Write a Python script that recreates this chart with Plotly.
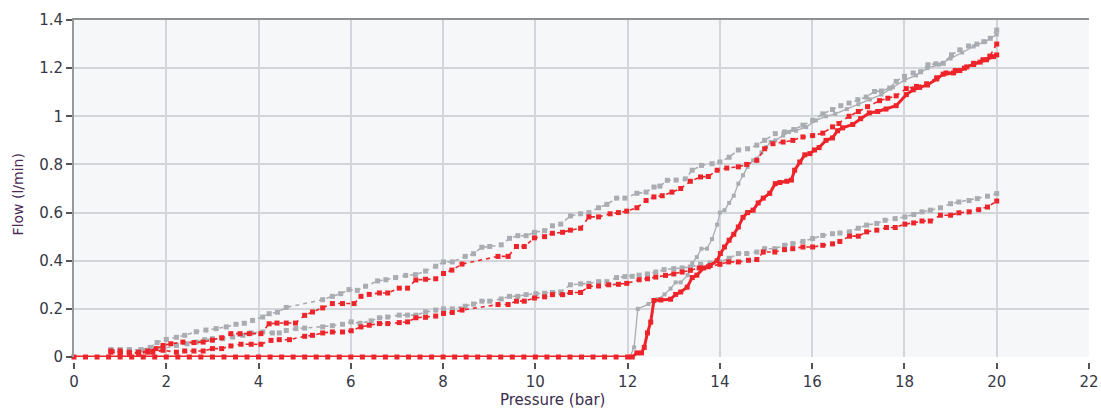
import plotly.graph_objects as go

# ---- measured flow curves (pressure in bar, flow in l/min) ----
grey_upper_p = [0.8, 1.0, 1.2, 1.45, 1.65, 1.8, 2.0, 2.22, 2.4, 2.65, 2.86, 3.08, 3.3, 3.51, 3.69, 3.87,
                4.09, 4.23, 4.41, 4.6, 5.39, 5.6, 5.78, 5.96, 6.14, 6.32, 6.58, 6.76, 6.97, 7.19, 7.4, 7.62,
                7.84, 8.01, 8.2, 8.48, 8.66, 8.84, 9.01, 9.26, 9.44, 9.62, 9.8, 9.98, 10.2, 10.37, 10.55,
                10.76, 10.98, 11.16, 11.37, 11.55, 11.76, 11.94, 12.2, 12.4, 12.57, 12.7, 12.86, 13.05,
                13.25, 13.4, 13.6, 13.83, 14.0, 14.2, 14.4, 14.6, 14.8, 14.97, 15.2, 15.4, 15.6, 15.8,
                16.01, 16.23, 16.44, 16.62, 16.8, 16.99, 17.17, 17.35, 17.5, 17.68, 17.82, 18.0, 18.19,
                18.35, 18.51, 18.68, 18.84, 19.02, 19.2, 19.39, 19.57, 19.72, 19.86, 20.0]
grey_upper_q = [0.03, 0.03, 0.03, 0.03, 0.04, 0.06, 0.073, 0.082, 0.09, 0.105, 0.112, 0.118, 0.125, 0.136,
                0.14, 0.152, 0.166, 0.18, 0.186, 0.206, 0.238, 0.252, 0.263, 0.28, 0.277, 0.294, 0.316,
                0.321, 0.33, 0.339, 0.342, 0.357, 0.377, 0.395, 0.395, 0.418, 0.429, 0.456, 0.459, 0.466,
                0.493, 0.504, 0.504, 0.518, 0.525, 0.545, 0.552, 0.586, 0.595, 0.6, 0.62, 0.634, 0.66,
                0.66, 0.68, 0.685, 0.706, 0.71, 0.734, 0.735, 0.74, 0.776, 0.796, 0.803, 0.81, 0.83, 0.86,
                0.865, 0.88, 0.9, 0.928, 0.935, 0.945, 0.963, 0.983, 1.01, 1.028, 1.044, 1.055, 1.069,
                1.08, 1.103, 1.105, 1.117, 1.145, 1.166, 1.18, 1.185, 1.214, 1.218, 1.22, 1.255, 1.276,
                1.292, 1.3, 1.31, 1.324, 1.358]

grey_lower_p = [0.8, 1.0, 1.2, 1.45, 1.7, 1.93, 2.22, 2.45, 2.65, 2.83, 3.0, 3.22, 3.44, 3.66, 3.84, 4.09,
                4.3, 4.45, 4.6, 4.81, 5.0, 5.39, 5.6, 5.82, 6.01, 6.2, 6.44, 6.62, 6.8, 7.05, 7.23, 7.41,
                7.62, 7.84, 8.01, 8.2, 8.48, 8.66, 8.84, 9.01, 9.26, 9.44, 9.62, 9.8, 10.01, 10.2, 10.37,
                10.55, 10.76, 10.98, 11.16, 11.37, 11.55, 11.76, 11.94, 12.1, 12.25, 12.43, 12.61, 12.79,
                13.0, 13.18, 13.36, 13.58, 13.79, 14.0, 14.2, 14.4, 14.58, 14.8, 14.97, 15.19, 15.4,
                15.58, 15.8, 16.01, 16.23, 16.44, 16.6, 16.81, 17.0, 17.18, 17.4, 17.58, 17.8, 18.01,
                18.2, 18.38, 18.56, 18.78, 19.0, 19.18, 19.4, 19.58, 19.8, 20.0]
grey_lower_q = [0.03, 0.03, 0.03, 0.03, 0.03, 0.035, 0.048, 0.055, 0.062, 0.072, 0.076, 0.076, 0.083, 0.09,
                0.1, 0.104, 0.1, 0.1, 0.11, 0.118, 0.12, 0.125, 0.13, 0.136, 0.146, 0.14, 0.15, 0.163,
                0.166, 0.174, 0.174, 0.174, 0.187, 0.195, 0.2, 0.2, 0.211, 0.22, 0.232, 0.232, 0.241,
                0.252, 0.252, 0.259, 0.263, 0.265, 0.268, 0.27, 0.3, 0.304, 0.306, 0.313, 0.313, 0.33,
                0.334, 0.335, 0.34, 0.345, 0.353, 0.363, 0.367, 0.37, 0.374, 0.385, 0.39, 0.395, 0.41,
                0.43, 0.43, 0.436, 0.45, 0.45, 0.464, 0.471, 0.48, 0.492, 0.505, 0.512, 0.515, 0.52,
                0.535, 0.548, 0.555, 0.568, 0.575, 0.582, 0.592, 0.603, 0.61, 0.62, 0.637, 0.644, 0.65,
                0.658, 0.668, 0.679]

grey_solid_p = [0.0, 3.0, 6.0, 9.0, 12.05, 12.14, 12.22, 12.45, 12.65, 12.8, 12.93, 13.04, 13.15, 13.3,
                13.4, 13.5, 13.6, 13.72, 13.83, 13.94, 14.0, 14.1, 14.2, 14.3, 14.4, 14.5, 14.6, 14.72,
                14.8, 14.9, 15.0, 15.1, 15.2, 15.37, 15.5, 15.65, 15.87, 16.08, 16.3, 16.5, 16.75, 17.0,
                17.25, 17.5, 17.75, 18.0, 18.25, 18.5, 18.75, 19.0, 19.25, 19.5, 19.75, 20.0]
grey_solid_q = [0.0, 0.0, 0.0, 0.0, 0.0, 0.04, 0.2, 0.22, 0.24, 0.26, 0.284, 0.31, 0.31, 0.34, 0.39,
                0.415, 0.45, 0.45, 0.49, 0.55, 0.6, 0.61, 0.64, 0.67, 0.72, 0.755, 0.79, 0.817, 0.824,
                0.85, 0.872, 0.893, 0.9, 0.92, 0.935, 0.94, 0.955, 0.983, 1.0, 1.01, 1.03, 1.05, 1.07,
                1.09, 1.12, 1.15, 1.17, 1.2, 1.215, 1.24, 1.265, 1.29, 1.31, 1.34]

red_upper_p = [0.8, 1.0, 1.2, 1.4, 1.6, 1.78, 1.93, 2.1, 2.36, 2.6, 2.8, 3.0, 3.2, 3.4, 3.6, 3.8, 4.05,
               4.23, 4.4, 4.6, 4.8, 5.0, 5.17, 5.39, 5.6, 5.82, 6.07, 6.22, 6.4, 6.62, 6.8, 7.05, 7.23,
               7.41, 7.62, 7.84, 8.01, 8.19, 8.41, 9.19, 9.41, 9.59, 9.76, 9.98, 10.2, 10.37, 10.59,
               10.76, 10.98, 11.16, 11.37, 11.62, 11.8, 11.98, 12.2, 12.4, 12.57, 12.75, 12.96, 13.15,
               13.36, 13.58, 13.75, 13.94, 14.15, 14.4, 14.58, 14.8, 14.97, 15.15, 15.37, 15.58, 15.8,
               16.01, 16.23, 16.44, 16.58, 16.8, 17.0, 17.2, 17.46, 17.64, 17.82, 18.04, 18.26, 18.48,
               18.7, 18.9, 19.1, 19.3, 19.5, 19.7, 19.85, 20.0]
red_upper_q = [0.025, 0.025, 0.02, 0.02, 0.025, 0.035, 0.048, 0.055, 0.062, 0.06, 0.062, 0.07, 0.08,
               0.097, 0.097, 0.097, 0.097, 0.138, 0.141, 0.141, 0.141, 0.173, 0.187, 0.204, 0.222, 0.222,
               0.222, 0.252, 0.26, 0.266, 0.266, 0.286, 0.286, 0.32, 0.323, 0.325, 0.347, 0.361, 0.386,
               0.418, 0.418, 0.459, 0.459, 0.495, 0.5, 0.514, 0.518, 0.527, 0.535, 0.582, 0.582, 0.595,
               0.6, 0.606, 0.62, 0.65, 0.665, 0.67, 0.685, 0.7, 0.73, 0.748, 0.75, 0.776, 0.785, 0.79,
               0.8, 0.817, 0.865, 0.886, 0.893, 0.9, 0.914, 0.92, 0.93, 0.956, 0.97, 1.0, 1.02, 1.04,
               1.065, 1.075, 1.085, 1.115, 1.124, 1.135, 1.16, 1.18, 1.19, 1.2, 1.22, 1.235, 1.25, 1.3]

red_lower_p = [0.8, 1.0, 1.2, 1.4, 1.6, 1.71, 1.93, 2.22, 2.4, 2.6, 2.8, 3.0, 3.2, 3.4, 3.62, 3.84, 4.05,
               4.27, 4.45, 4.67, 5.0, 5.17, 5.39, 5.6, 5.82, 6.01, 6.22, 6.4, 6.62, 6.8, 7.05, 7.23, 7.41,
               7.62, 7.84, 8.01, 8.2, 8.41, 9.19, 9.41, 9.59, 9.76, 9.98, 10.2, 10.37, 10.59, 10.76,
               10.98, 11.16, 11.37, 11.59, 11.8, 11.98, 12.25, 12.43, 12.61, 12.82, 13.0, 13.18, 13.36,
               13.55, 13.75, 14.0, 14.19, 14.4, 14.62, 14.8, 14.94, 15.19, 15.4, 15.58, 15.8, 16.01,
               16.23, 16.44, 16.6, 16.81, 17.0, 17.18, 17.4, 17.61, 17.8, 18.01, 18.2, 18.38, 18.56,
               18.78, 19.0, 19.18, 19.4, 19.61, 19.8, 20.0]
red_lower_q = [0.02, 0.015, 0.015, 0.015, 0.02, 0.02, 0.028, 0.02, 0.025, 0.025, 0.025, 0.035, 0.035,
               0.046, 0.053, 0.053, 0.053, 0.069, 0.072, 0.072, 0.086, 0.09, 0.1, 0.104, 0.104, 0.109,
               0.125, 0.132, 0.139, 0.139, 0.143, 0.146, 0.163, 0.165, 0.17, 0.181, 0.185, 0.195, 0.218,
               0.218, 0.232, 0.232, 0.245, 0.25, 0.259, 0.259, 0.268, 0.268, 0.293, 0.295, 0.3, 0.302,
               0.306, 0.321, 0.325, 0.332, 0.339, 0.345, 0.353, 0.36, 0.37, 0.375, 0.385, 0.395, 0.395,
               0.402, 0.405, 0.436, 0.436, 0.446, 0.45, 0.457, 0.457, 0.464, 0.47, 0.48, 0.502, 0.502,
               0.52, 0.527, 0.538, 0.538, 0.552, 0.557, 0.565, 0.565, 0.589, 0.589, 0.599, 0.603, 0.612,
               0.623, 0.648]

red_solid_p = [0.0, 0.25, 0.5, 0.75, 1.0, 1.25, 1.5, 1.75, 2.0, 2.25, 2.5, 2.75, 3.0, 3.25, 3.5, 3.75,
               4.0, 4.25, 4.5, 4.75, 5.0, 5.25, 5.5, 5.75, 6.0, 6.25, 6.5, 6.75, 7.0, 7.25, 7.5, 7.75,
               8.0, 8.25, 8.5, 8.75, 9.0, 9.25, 9.5, 9.75, 10.0, 10.25, 10.5, 10.75, 11.0, 11.25, 11.5,
               11.75, 12.0, 12.1, 12.2, 12.3, 12.36, 12.43, 12.5, 12.57, 12.72, 12.93, 13.04, 13.15,
               13.29, 13.4, 13.5, 13.65, 13.79, 13.94, 14.01, 14.1, 14.2, 14.3, 14.4, 14.5, 14.6, 14.72,
               14.83, 14.94, 15.08, 15.2, 15.3, 15.45, 15.55, 15.62, 15.73, 15.84, 15.95, 16.05, 16.15,
               16.3, 16.44, 16.55, 16.66, 16.88, 17.05, 17.24, 17.42, 17.6, 17.82, 18.04, 18.19, 18.33,
               18.5, 18.7, 18.84, 19.06, 19.2, 19.35, 19.5, 19.64, 19.78, 19.93, 20.0]
red_solid_q = [0.0, 0.0, 0.0, 0.0, 0.0, 0.0, 0.0, 0.0, 0.0, 0.0, 0.0, 0.0, 0.0, 0.0, 0.0, 0.0,
               0.0, 0.0, 0.0, 0.0, 0.0, 0.0, 0.0, 0.0, 0.0, 0.0, 0.0, 0.0, 0.0, 0.0, 0.0, 0.0,
               0.0, 0.0, 0.0, 0.0, 0.0, 0.0, 0.0, 0.0, 0.0, 0.0, 0.0, 0.0, 0.0, 0.0, 0.0,
               0.0, 0.0, 0.0, 0.017, 0.017, 0.04, 0.1, 0.145, 0.235, 0.237, 0.24, 0.26, 0.27,
               0.29, 0.33, 0.34, 0.37, 0.38, 0.4, 0.43, 0.457, 0.485, 0.51, 0.54, 0.58, 0.6, 0.61,
               0.64, 0.66, 0.68, 0.72, 0.725, 0.73, 0.735, 0.776, 0.81, 0.84, 0.845, 0.86, 0.87,
               0.9, 0.91, 0.94, 0.952, 0.966, 0.99, 1.014, 1.02, 1.03, 1.044, 1.09, 1.11, 1.12,
               1.13, 1.155, 1.175, 1.18, 1.19, 1.205, 1.215, 1.225, 1.235, 1.248, 1.255]

# axis tick values
x_ticks = [0, 2, 4, 6, 8, 10, 12, 14, 16, 18, 20, 22]
y_ticks = [0, 0.2, 0.4, 0.6, 0.8, 1, 1.2, 1.4]

GREY = "#a9acb1"
RED = "#ee242b"
FONT = "DejaVu Sans"
TICK_FONT = dict(family=FONT, size=15, color="#363845")

fig = go.Figure()


def dashed_series(p, q, color):
    return go.Scatter(
        x=p, y=q, mode="lines+markers",
        line=dict(color=color, width=1.6, dash="4px,4px"),
        marker=dict(symbol="square", size=5, color=color),
        showlegend=False, hoverinfo="x+y", cliponaxis=False,
    )


fig.add_trace(dashed_series(grey_upper_p, grey_upper_q, GREY))
fig.add_trace(dashed_series(grey_lower_p, grey_lower_q, GREY))
fig.add_trace(go.Scatter(
    x=grey_solid_p, y=grey_solid_q, mode="lines+markers",
    line=dict(color=GREY, width=1.3),
    marker=dict(symbol="square", size=4, color=GREY),
    showlegend=False, cliponaxis=False,
))
fig.add_trace(dashed_series(red_upper_p, red_upper_q, RED))
fig.add_trace(dashed_series(red_lower_p, red_lower_q, RED))
fig.add_trace(go.Scatter(
    x=red_solid_p, y=red_solid_q, mode="lines+markers",
    line=dict(color=RED, width=3),
    marker=dict(symbol="square", size=5, color=RED),
    showlegend=False, cliponaxis=False,
))
# carrier for the detached bottom tick axis
fig.add_trace(go.Scatter(x=[], y=[], xaxis="x2", showlegend=False))

fig.update_layout(
    width=1101, height=408,
    margin=dict(l=74, r=12, t=20, b=46, autoexpand=False),
    paper_bgcolor="white",
    plot_bgcolor="#f6f7f8",
    font=dict(family=FONT, size=15, color="#363845"),
    xaxis=dict(
        range=[0, 22], side="top", tickvals=x_ticks,
        showticklabels=False, ticks="", automargin=False,
        showgrid=True, gridcolor="#d2d5da", gridwidth=1.5,
        showline=True, linecolor="#8f9094", linewidth=2,
        zeroline=False,
    ),
    xaxis2=dict(
        range=[0, 22], overlaying="x", anchor="free", position=0,
        tickvals=x_ticks, ticks="outside", ticklen=6, tickwidth=1.5, tickcolor="#555",
        showgrid=False, showline=False, zeroline=False, automargin=False,
        tickfont=TICK_FONT,
    ),
    yaxis=dict(
        domain=[0.0146, 1], range=[0, 1.4], tickvals=y_ticks,
        ticks="outside", ticklen=6, tickwidth=1.5, tickcolor="#555",
        showgrid=True, gridcolor="#d2d5da", gridwidth=1.5,
        showline=True, linecolor="#98999d", linewidth=2,
        zeroline=False, automargin=False,
        tickfont=TICK_FONT,
    ),
    annotations=[
        dict(text="Pressure (bar)", xref="paper", yref="paper", x=0.471, y=-0.111,
             xanchor="center", yanchor="middle", showarrow=False,
             font=dict(family=FONT, size=15, color="#3a2d4d")),
        dict(text="Flow (l/min)", xref="paper", yref="paper", x=-0.0552, y=0.49,
             xanchor="center", yanchor="middle", showarrow=False, textangle=-90,
             font=dict(family=FONT, size=14, color="#4a2a55")),
    ],
)

fig.write_html("out.html")
